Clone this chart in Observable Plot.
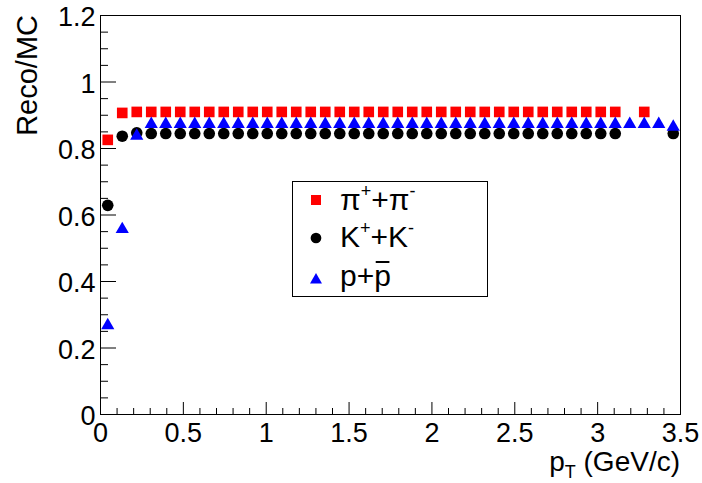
<!DOCTYPE html>
<html><head><meta charset="utf-8">
<script src="https://cdn.jsdelivr.net/npm/d3@7"></script>
<script src="https://cdn.jsdelivr.net/npm/@observablehq/plot@0.6"></script>
<style>
body{margin:0;background:#fff}
svg{font-family:"Liberation Sans",Arial,Helvetica,sans-serif}
</style>
</head><body><div id="chart"></div>
<script>
// bin centres of pT (GeV/c)
const pT = [0.04375,0.13125,0.21875,0.30625,0.39375,0.48125,0.56875,0.65625,0.74375,0.83125,
            0.91875,1.00625,1.09375,1.18125,1.26875,1.35625,1.44375,1.53125,1.61875,1.70625,
            1.79375,1.88125,1.96875,2.05625,2.14375,2.23125,2.31875,2.40625,2.49375,2.58125,
            2.66875,2.75625,2.84375,2.93125,3.01875,3.10625,3.19375,3.28125,3.36875,3.45625];
const pion = [0.826,0.907,0.910,0.910,0.910,0.910,0.910,0.910,0.910,0.910,
              0.910,0.910,0.910,0.910,0.910,0.910,0.910,0.910,0.910,0.910,
              0.910,0.910,0.910,0.910,0.910,0.910,0.910,0.910,0.910,0.910,
              0.910,0.910,0.910,0.910,0.910,0.910,null,0.910,null,null];
const kaon = [0.629,0.837,0.847,0.845,0.845,0.845,0.845,0.845,0.845,0.845,
              0.845,0.845,0.845,0.845,0.845,0.845,0.845,0.845,0.845,0.845,
              0.845,0.845,0.845,0.845,0.845,0.845,0.845,0.845,0.845,0.845,
              0.845,0.845,0.845,0.845,0.845,0.845,null,null,null,0.845];
const proton = [0.274,0.563,0.844,0.879,0.879,0.879,0.879,0.879,0.879,0.879,
                0.879,0.879,0.879,0.879,0.879,0.879,0.879,0.879,0.879,0.879,
                0.879,0.879,0.879,0.879,0.879,0.879,0.879,0.879,0.879,0.879,
                0.879,0.879,0.879,0.879,0.879,0.879,0.879,0.879,0.879,0.871];
const xMajorTicks = [0,0.5,1,1.5,2,2.5,3,3.5];
const xTickLabels = ["0","0.5","1","1.5","2","2.5","3","3.5"];
const xMinorTicks = [0.1,0.2,0.3,0.4,0.6,0.7,0.8,0.9,1.1,1.2,1.3,1.4,1.6,1.7,1.8,1.9,
                     2.1,2.2,2.3,2.4,2.6,2.7,2.8,2.9,3.1,3.2,3.3,3.4];
const yMajorTicks = [0,0.2,0.4,0.6,0.8,1,1.2];
const yTickLabels = ["0","0.2","0.4","0.6","0.8","1","1.2"];
const yMinorTicks = [0.05,0.1,0.15,0.25,0.3,0.35,0.45,0.5,0.55,0.65,0.7,0.75,
                     0.85,0.9,0.95,1.05,1.1,1.15];
const xTitle = ["p","T"," (GeV/c)"];
const yTitle = "Reco/MC";

const W = 702, H = 483, mL = 100, mR = 22, mT = 15, mB = 69;
const innerW = W - mL - mR, innerH = H - mT - mB;
const FONT = '"Liberation Sans",Arial,Helvetica,sans-serif';

const rows = vals => pT.map((x, i) => ({x, y: vals[i]})).filter(d => d.y != null);

const svg = Plot.plot({
  width: W, height: H,
  marginLeft: mL, marginRight: mR, marginTop: mT, marginBottom: mB,
  style: {fontFamily: FONT, background: "white", color: "black"},
  x: {domain: [0, 3.5]},
  y: {domain: [0, 1.2]},
  marks: [
    Plot.frame({stroke: "black", strokeWidth: 1}),
    Plot.tickX(xMajorTicks, {x: d => d, insetTop: innerH - 12, stroke: "black"}),
    Plot.tickX(xMinorTicks, {x: d => d, insetTop: innerH - 6, stroke: "black"}),
    Plot.tickY(yMajorTicks, {y: d => d, insetRight: innerW - 16, stroke: "black"}),
    Plot.tickY(yMinorTicks, {y: d => d, insetRight: innerW - 8, stroke: "black"}),
    Plot.axisX(xMajorTicks, {tickSize: 0, tickPadding: 8, fontSize: 27, label: null,
      tickFormat: d => xTickLabels[xMajorTicks.indexOf(d)]}),
    Plot.axisY(yMajorTicks, {tickSize: 0, tickPadding: 5, fontSize: 27, label: null, dy: 2,
      tickFormat: d => yTickLabels[yMajorTicks.indexOf(d)]}),
    Plot.dot(rows(pion), {x: "x", y: "y", symbol: "square", r: 6, fill: "#ff0000"}),
    Plot.dot(rows(kaon), {x: "x", y: "y", symbol: "circle", r: 5.8, fill: "black"}),
    Plot.dot(rows(proton), {x: "x", y: "y", symbol: "triangle", r: 4.9, fill: "#0000ff", dy: 2})
  ]
});
document.getElementById("chart").appendChild(svg);

const s = d3.select(svg);
// y title
s.append("text")
  .attr("transform", "translate(37,15) rotate(-90)")
  .attr("text-anchor", "end")
  .attr("font-family", FONT).attr("font-size", 29).attr("fill", "black")
  .text(yTitle);
// x title
const xt = s.append("text")
  .attr("x", 680).attr("y", 471)
  .attr("text-anchor", "end")
  .attr("font-family", FONT).attr("font-size", 28).attr("fill", "black");
xt.append("tspan").text(xTitle[0]);
xt.append("tspan").attr("font-size", 18).attr("dy", 7).text(xTitle[1]);
xt.append("tspan").attr("dy", -7).text(xTitle[2]);

// legend
const lg = s.append("g");
lg.append("rect").attr("x", 292.5).attr("y", 181.5).attr("width", 195).attr("height", 115)
  .attr("fill", "white").attr("stroke", "black").attr("stroke-width", 1);
const entries = [
  {sym: d3.symbolSquare, size: 100, fill: "#ff0000", cy: 200, base: 210,
   parts: [["π",0],["+",1],["+",0],["π",0],["-",1]]},
  {sym: d3.symbolCircle, size: 90, fill: "black", cy: 238, base: 247,
   parts: [["K",0],["+",1],["+",0],["K",0],["-",1]]},
  {sym: d3.symbolTriangle, size: 62, fill: "#0000ff", cy: 280, base: 286,
   parts: [["p+",0],["p",2]]}
];
for (const e of entries) {
  lg.append("path").attr("d", d3.symbol(e.sym, e.size)())
    .attr("transform", `translate(316,${e.cy})`).attr("fill", e.fill);
  const t = lg.append("text").attr("x", 340).attr("y", e.base)
    .attr("text-anchor", "start")
    .attr("font-family", FONT).attr("font-size", 30).attr("fill", "black");
  let raised = false, idx = 0, barChar = -1;
  for (const [str, kind] of e.parts) {
    const sp = t.append("tspan").text(str);
    if (kind === 1) {
      sp.attr("font-size", 18).attr("dy", raised ? 0 : -13);
      raised = true;
    } else {
      if (raised) { sp.attr("dy", 13); raised = false; }
      if (kind === 2) barChar = idx;
    }
    idx += str.length;
  }
  if (barChar >= 0) {
    const box = t.node().getExtentOfChar(barChar);
    lg.append("line")
      .attr("x1", box.x + 1.5).attr("x2", box.x + box.width - 1.5)
      .attr("y1", e.base - 24).attr("y2", e.base - 24)
      .attr("stroke", "black").attr("stroke-width", 2);
  }
}
</script>
</body></html>
